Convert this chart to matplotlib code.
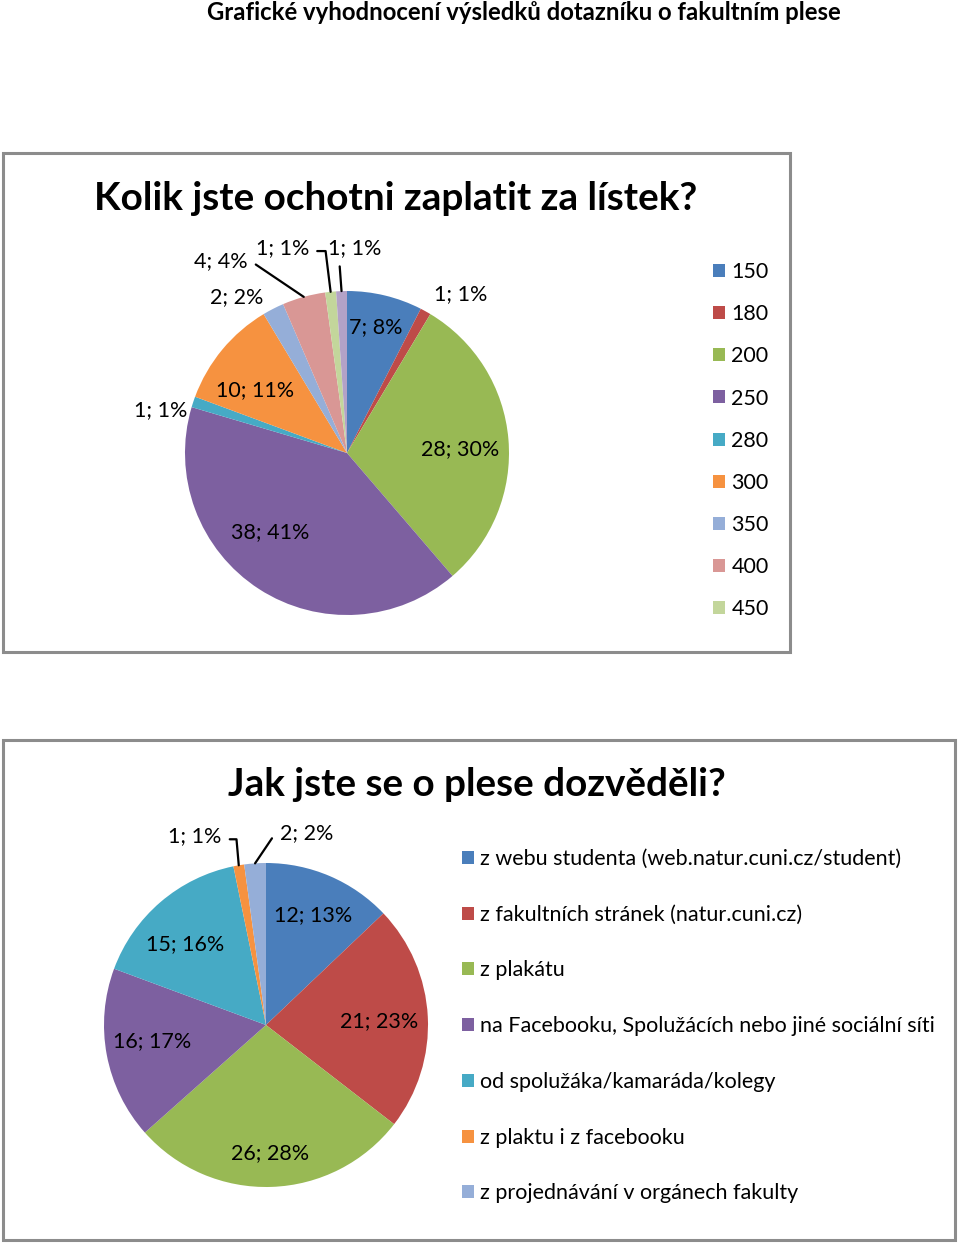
import matplotlib.pyplot as plt
from matplotlib.patches import Rectangle
import numpy as np

plt.rcParams['font.family'] = ['Lato', 'DejaVu Sans']

W, H = 960, 1244

PALETTE = ["#4A7EBB", "#BE4B48", "#98B954", "#7D60A0", "#46AAC5",
           "#F69240", "#95AED8", "#D99795", "#C3D69B", "#B3A2C7"]

# chart 1: ticket price
price_labels = ["150", "180", "200", "250", "280", "300", "350", "400", "450", "500"]
price_counts = [7, 1, 28, 38, 1, 10, 2, 4, 1, 1]
price_legend_n = 9  # last slice is not in the legend

# chart 2: where did you hear about the ball
source_labels = [
    "z webu studenta (web.natur.cuni.cz/student)",
    "z fakultních stránek (natur.cuni.cz)",
    "z plakátu",
    "na Facebooku, Spolužácích nebo jiné sociální síti",
    "od spolužáka/kamaráda/kolegy",
    "z plaktu i z facebooku",
    "z projednávání v orgánech fakulty",
]
source_counts = [12, 21, 26, 16, 15, 1, 2]

# label placement in radius units (layout only)
price_label_pos = [(0.18, 0.78), (0.70, 0.98), (0.70, 0.025), (-0.475, -0.49),
                   (-1.15, 0.265), (-0.57, 0.39), (-0.68, 0.96),
                   (-0.78, 1.185), (-0.40, 1.265), (0.05, 1.265)]
# slice index -> (relpos, angleB or None)
price_leaders = {7: ((1.0, 0.35), 146), 8: ((1.0, 0.35), 97), 9: ((0.2, 0.0), None)}

source_label_pos = [(0.29, 0.68), (0.70, 0.025), (0.025, -0.79), (-0.70, -0.10),
                    (-0.50, 0.50), (-0.44, 1.165), (0.25, 1.185)]
source_leaders = {5: ((1.0, 0.35), 95), 6: ((0.0, 0.35), 56)}

LABEL_SIZE = 15.5


def px_axes(fig, cx, cy, r):
    return fig.add_axes([(cx - r) / W, 1 - (cy + r) / H, 2 * r / W, 2 * r / H])


def draw_pie(fig, cx, cy, r, counts, label_pos, leaders):
    ax = px_axes(fig, cx, cy, r)
    wedges, _ = ax.pie(counts, colors=PALETTE[:len(counts)], startangle=90,
                       counterclock=False, radius=1,
                       wedgeprops=dict(linewidth=0))
    ax.set_xlim(-1, 1)
    ax.set_ylim(-1, 1)
    ax.axis("off")
    total = sum(counts)
    for i, (w, c) in enumerate(zip(wedges, counts)):
        txt = f"{c}; {round(100 * c / total)}%"
        pos = label_pos[i]
        if i in leaders:
            relpos, angle_b = leaders[i]
            mid = np.deg2rad((w.theta1 + w.theta2) / 2)
            tip = (np.cos(mid), np.sin(mid))
            if angle_b is None:
                cs = "arc3"
            else:
                cs = f"angle,angleA=0,angleB={angle_b},rad=0"
            ax.annotate(txt, xy=tip, xytext=pos, ha="center", va="center",
                        fontsize=LABEL_SIZE, annotation_clip=False,
                        arrowprops=dict(arrowstyle="-", color="black", lw=1.6,
                                        relpos=relpos, connectionstyle=cs,
                                        shrinkA=4, shrinkB=0))
        else:
            ax.text(pos[0], pos[1], txt, ha="center", va="center",
                    fontsize=LABEL_SIZE, clip_on=False)
    return wedges


def frame_box(fig, x0, y0, x1, y1):
    fig.patches.append(Rectangle((x0 / W, 1 - y1 / H), (x1 - x0) / W, (y1 - y0) / H,
                                 transform=fig.transFigure, fill=False,
                                 edgecolor="#8C8C8C", linewidth=2.2))


fig = plt.figure(figsize=(W / 100, H / 100), dpi=100)

fig.text(524 / W, 1 - 13 / H, "Grafické vyhodnocení výsledků dotazníku o fakultním plese",
         ha="center", va="center", fontsize=17.2, fontweight="bold")

# chart 1
frame_box(fig, 3, 153, 790, 652)
fig.text(396 / W, 1 - 198 / H, "Kolik jste ochotni zaplatit za lístek?",
         ha="center", va="center", fontsize=27.9, fontweight="bold")
w1 = draw_pie(fig, 347, 453, 162, price_counts, price_label_pos, price_leaders)
fig.legend(w1[:price_legend_n], price_labels[:price_legend_n], loc="upper left",
           bbox_to_anchor=(713 / W, 1 - 262 / H), frameon=False, fontsize=LABEL_SIZE,
           handlelength=0.55, handleheight=0.55, handletextpad=0.3,
           labelspacing=1.03, borderpad=0, borderaxespad=0)

# chart 2
frame_box(fig, 3, 740, 955, 1240)
fig.text(477 / W, 1 - 784 / H, "Jak jste se o plese dozvěděli?",
         ha="center", va="center", fontsize=27.8, fontweight="bold")
w2 = draw_pie(fig, 266, 1025, 162, source_counts, source_label_pos, source_leaders)
fig.legend(w2, source_labels, loc="upper left",
           bbox_to_anchor=(462 / W, 1 - 849 / H), frameon=False, fontsize=LABEL_SIZE,
           handlelength=0.55, handleheight=0.55, handletextpad=0.3,
           labelspacing=1.66, borderpad=0, borderaxespad=0)

fig.savefig("out.png", dpi=100)
